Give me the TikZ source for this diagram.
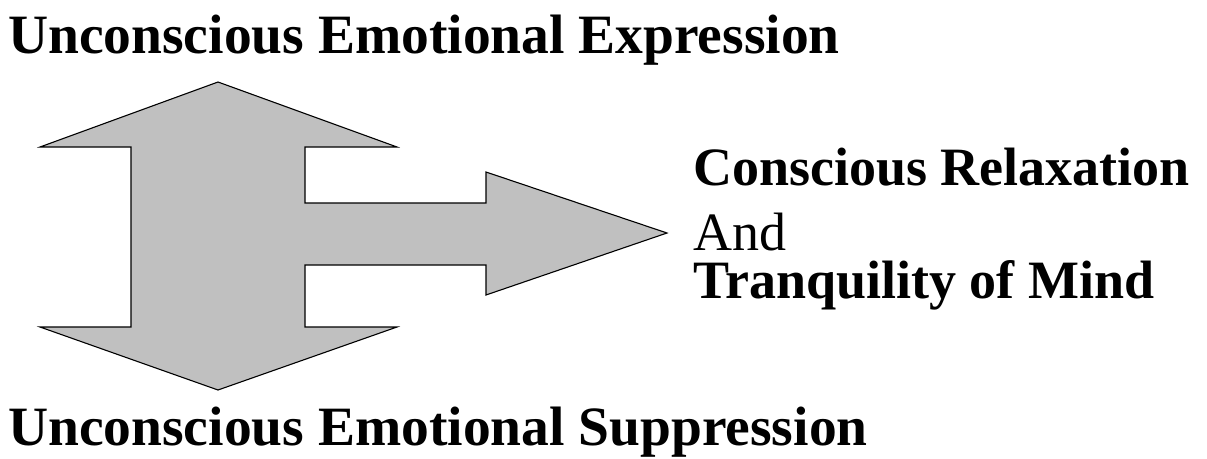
\documentclass[tikz,border=0pt]{standalone}
\usepackage{fontspec}
\setmainfont{Liberation Serif}
\usepackage{xcolor}
\usetikzlibrary{positioning}
\definecolor{arrowgray}{RGB}{192,192,192}

\begin{document}
\begin{tikzpicture}[
    x=1pt, y=-1pt,
    arrowbody/.style={fill=arrowgray, draw=black, line width=1.1pt, line join=miter},
    boldtext/.style={anchor=base west, inner sep=0pt, font=\fontsize{54}{60}\selectfont\bfseries},
    plaintext/.style={anchor=base west, inner sep=0pt, text depth=0pt, font=\fontsize{54}{60}\selectfont}
]
\useasboundingbox (0,0) rectangle (1207,458);

% double arrow with branch to the right
\draw[arrowbody] (218,82) -- (397,147) -- (305,147) -- (305,203) -- (486,203)
    -- (486,172) -- (667,233) -- (486,295) -- (486,265) -- (305,265)
    -- (305,327) -- (397,327) -- (218,390) -- (40,327) -- (131,327)
    -- (131,147) -- (40,147) -- cycle;

\node[boldtext, font=\fontsize{55.5}{60}\selectfont\bfseries] (expression) at (8,53) {Unconscious Emotional Expression};
\node[boldtext, font=\fontsize{55.5}{60}\selectfont\bfseries] (suppression) at (8,445) {Unconscious Emotional Suppression};
\node[boldtext] (relax) at (693,185) {Conscious Relaxation};
\node[plaintext] (and) at (693,250) {And};
\node[boldtext, text height=33pt] (mind) at (693,298) {Tranquility of Mind};
\end{tikzpicture}
\end{document}
